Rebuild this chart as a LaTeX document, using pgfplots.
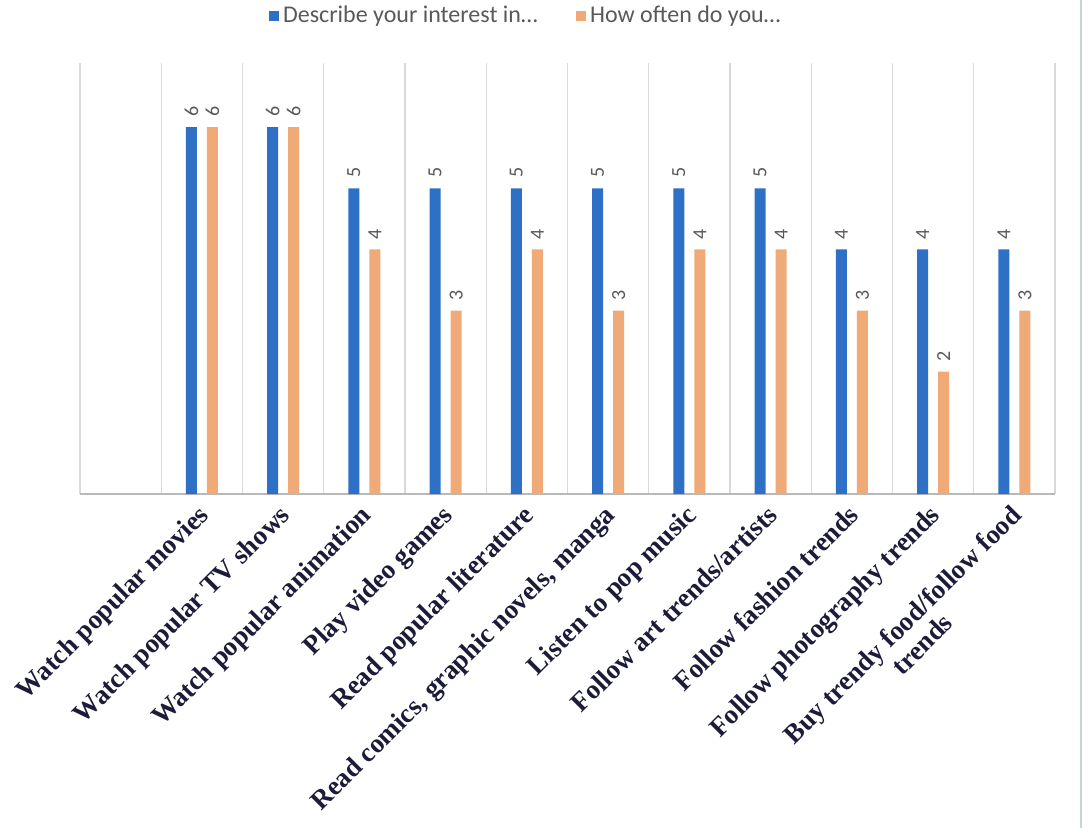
\documentclass[border=0pt]{standalone}
\usepackage{fontspec}
\setmainfont{Liberation Serif}
\newfontfamily\calfont{Carlito}
\usepackage{pgfplots}
\pgfplotsset{compat=1.18}
\definecolor{barblue}{RGB}{46,112,198}
\definecolor{barorange}{RGB}{240,170,120}
\definecolor{gridgray}{RGB}{217,217,217}
\definecolor{labnavy}{RGB}{28,28,58}
\definecolor{txtgray}{RGB}{89,89,89}
\begin{document}
\begin{tikzpicture}
\path[use as bounding box] (-40pt,-167pt) rectangle (502.5pt,247pt);
\begin{axis}[
  scale only axis,
  width=487.5pt, height=215.5pt,
  ybar, bar width=5.5pt, ybar=5pt,
  xmin=-0.5, xmax=11.5, ymin=0, ymax=7.05,
  axis y line=none,
  axis x line=bottom,
  x axis line style={-, draw=gray!55, line width=0.6pt},
  xtick={0,1,2,3,4,5,6,7,8,9,10,11},
  xticklabels={{},Watch popular movies,Watch popular TV shows,Watch popular animation,Play video games,Read popular literature,{Read comics, graphic novels, manga},Listen to pop music,Follow art trends/artists,Follow fashion trends,Follow photography trends,{Buy trendy food/follow food\\trends}},
  major tick length=0pt,
  minor xtick={-0.5,0.5,1.5,2.5,3.5,4.5,5.5,6.5,7.5,8.5,9.5,10.5,11.5},
  minor tick length=0pt,
  xminorgrids=true,
  minor grid style={draw=gridgray, line width=0.6pt},
  x tick label style={xshift=-2.5pt, yshift=-3pt, rotate=45, anchor=north east, align=center, font=\fontsize{13.5}{14}\selectfont\bfseries, text=labnavy, inner sep=1pt},
  /pgf/number format/assume math mode=true,
  nodes near coords,
  every node near coord/.append style={rotate=90, anchor=west, font=\calfont\fontsize{10}{10}\selectfont, text=txtgray, inner sep=5pt},
  legend style={at={(0.458,1.109)}, anchor=center, draw=none, fill=none, legend columns=2, font=\calfont\fontsize{12}{12}\selectfont, text=txtgray, /tikz/every even column/.append style={column sep=17pt}, nodes={inner sep=2pt}},
  legend image code/.code={\fill[#1] (0pt,-2.6pt) rectangle (5.2pt,2.6pt);},
]
\addplot[fill=barblue, draw=none] coordinates {(1,6) (2,6) (3,5) (4,5) (5,5) (6,5) (7,5) (8,5) (9,4) (10,4) (11,4)};
\addlegendentry{Describe your interest in\ldots}
\addplot[fill=barorange, draw=none] coordinates {(1,6) (2,6) (3,4) (4,3) (5,4) (6,3) (7,4) (8,4) (9,3) (10,2) (11,3)};
\addlegendentry{How often do you\ldots}
\end{axis}
\draw[draw={rgb,255:red,200;green,214;blue,214}, line width=0.8pt] (500.5pt,-167pt) -- (500.5pt,247pt);
\end{tikzpicture}
\end{document}
